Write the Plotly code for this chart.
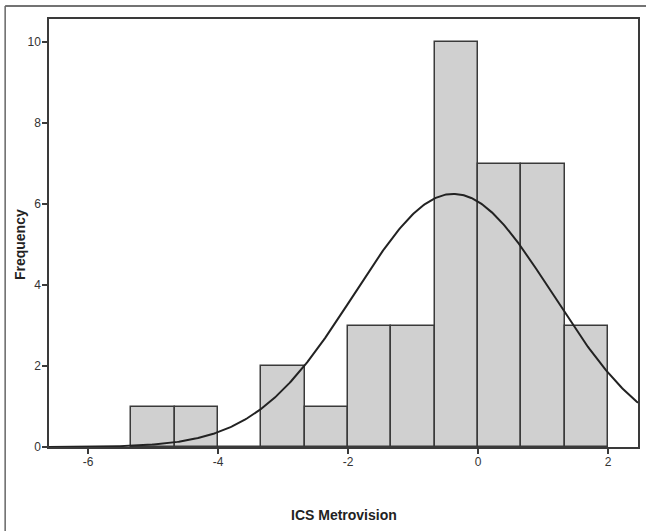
import numpy as np
import plotly.graph_objects as go

# Histogram data
bin_left = [-5.3333, -4.6667, -4.0, -3.3333, -2.6667, -2.0, -1.3333, -0.6667, 0.0, 0.6667, 1.3333]
bin_width = 2 / 3
counts = [1, 1, 0, 2, 1, 3, 3, 10, 7, 7, 3]

# Fitted normal curve parameters
curve_mean = -0.38
curve_sd = 1.52
curve_peak = 6.25

x_ticks = [-6, -4, -2, 0, 2]
y_ticks = [0, 2, 4, 6, 8, 10]

W, H = 646, 531
L, R, T, B = 49, 640, 19, 447

centers = [b + bin_width / 2 for b in bin_left]

xs = np.linspace(-6.6, 2.46, 400)
ys = curve_peak * np.exp(-0.5 * ((xs - curve_mean) / curve_sd) ** 2)

fig = go.Figure()
fig.add_trace(go.Bar(
    x=centers, y=counts, width=bin_width,
    marker=dict(color="#d0d0d0", line=dict(color="#3a3a3a", width=1.5)),
    hoverinfo="skip", showlegend=False,
))
fig.add_trace(go.Scatter(
    x=xs, y=ys, mode="lines",
    line=dict(color="#222222", width=2),
    hoverinfo="skip", showlegend=False,
))

pw = R - L
ph = B - T

def px2paperx(px):
    return (px - L) / pw

def px2papery(py):
    return (B - py) / ph

fig.update_layout(
    width=W, height=H,
    margin=dict(l=L, r=W - R, t=T, b=H - B, pad=0),
    paper_bgcolor="white", plot_bgcolor="white",
    font=dict(family="Liberation Sans, Arial, sans-serif", color="#333333", size=12),
    bargap=0,
    xaxis=dict(
        range=[-6.6, 2.46], tickvals=x_ticks, ticktext=[str(v) for v in x_ticks],
        showgrid=False, zeroline=False, showline=True, linecolor="#3a3a3a", linewidth=1.5,
        mirror=True, ticks="outside", ticklen=5, tickcolor="#3a3a3a", tickwidth=1.5,
        tickfont=dict(size=12, color="#333333"), ticklabelstandoff=-2,
    ),
    yaxis=dict(
        range=[0, 10.568], tickvals=y_ticks, ticktext=[str(v) for v in y_ticks],
        showgrid=False, zeroline=False, showline=True, linecolor="#3a3a3a", linewidth=1.5,
        mirror=True, ticks="outside", ticklen=5, tickcolor="#3a3a3a", tickwidth=1.5,
        tickfont=dict(size=12, color="#333333"), ticklabelstandoff=-1,
    ),
    annotations=[
        dict(text="<b>Frequency</b>", x=px2paperx(20), y=px2papery(245), xref="paper", yref="paper",
             showarrow=False, textangle=-90, font=dict(size=14, color="#222222"),
             xanchor="center", yanchor="middle"),
        dict(text="<b>ICS Metrovision</b>", x=px2paperx(345), y=px2papery(515), xref="paper", yref="paper",
             showarrow=False, font=dict(size=14, color="#222222"),
             xanchor="center", yanchor="middle"),
    ],
    shapes=[
        dict(type="line", xref="paper", yref="paper",
             x0=px2paperx(5), x1=px2paperx(W + 5), y0=px2papery(6), y1=px2papery(6),
             line=dict(color="#444444", width=1.5)),
        dict(type="line", xref="paper", yref="paper",
             x0=px2paperx(5), x1=px2paperx(5), y0=px2papery(6), y1=px2papery(H + 5),
             line=dict(color="#666666", width=1.5)),
    ],
)

fig.write_html("out.html")
